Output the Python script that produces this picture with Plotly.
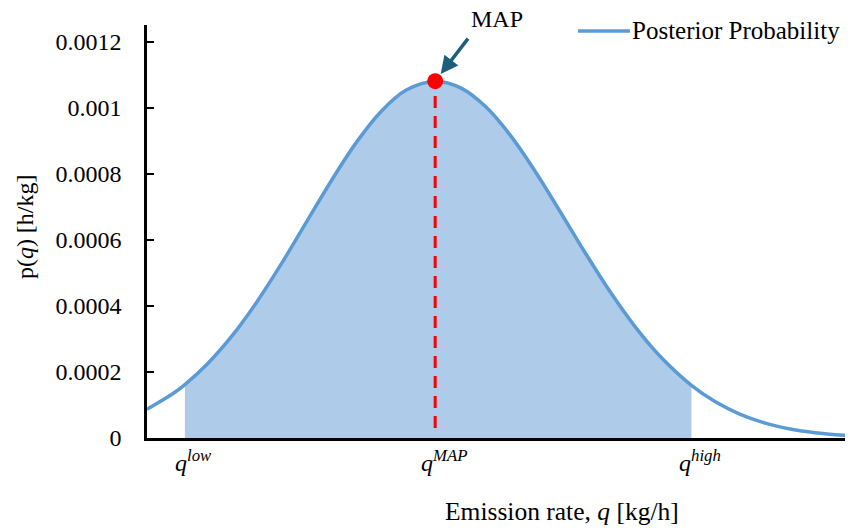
import plotly.graph_objects as go

# ---- data ----
q_vals = [0, 2.5, 3.8, 6, 8.5, 11, 13.5, 16, 18.5, 21, 23.5, 26, 28.9,
          31.5, 34, 36.5, 39, 41.5, 44, 46.5, 49, 51.5, 54.6, 57, 59.5,
          62, 64.5, 67, 70]
p_vals = [0.0000872, 0.0001322, 0.0001618, 0.0002224, 0.0003081, 0.0004112,
          0.0005284, 0.000654, 0.0007795, 0.0008948, 0.0009891, 0.001053, 0.00108,
          0.001059, 0.0010016, 0.0009136, 0.0008037, 0.0006818, 0.0005578,
          0.0004401, 0.0003349, 0.0002458, 0.0001593, 0.0001095, 0.0000716,
          0.0000451, 0.0000274, 0.0000161, 0.0000081]
q_low, q_map, q_high = 3.8, 28.9, 54.6
p_map = 0.00108
y_tickvals = [0, 0.0002, 0.0004, 0.0006, 0.0008, 0.001, 0.0012]
y_ticktext = ["0", "0.0002", "0.0004", "0.0006", "0.0008", "0.001", "0.0012"]
x_labels = ["<i>q</i><sup><i>low</i></sup>", "<i>q</i><sup><i>MAP</i></sup>",
            "<i>q</i><sup><i>high</i></sup>"]
x_label_pos = [q_low, q_map, q_high]

FONT = "Liberation Serif, Times New Roman, serif"
LINE_C = "#5b9bd5"
FILL_C = "#aecbe9"

fill_q = [q for q in q_vals if q_low <= q <= q_high]
fill_p = [p for q, p in zip(q_vals, p_vals) if q_low <= q <= q_high]

fig = go.Figure()
fig.add_trace(go.Scatter(x=fill_q, y=fill_p, mode="lines", fill="tozeroy",
                         fillcolor=FILL_C, line=dict(width=0, shape="spline", color=FILL_C),
                         showlegend=False, hoverinfo="skip"))
fig.add_trace(go.Scatter(x=q_vals, y=p_vals, mode="lines", name="Posterior Probability",
                         line=dict(color=LINE_C, width=3.5, shape="spline"),
                         showlegend=False))
fig.add_trace(go.Scatter(x=[q_map, q_map], y=[0.00003, p_map], mode="lines",
                         line=dict(color="#ff0000", width=3, dash="12px,8px"),
                         showlegend=False))
fig.add_trace(go.Scatter(x=[q_map], y=[p_map], mode="markers",
                         marker=dict(color="#ff0000", size=16), showlegend=False))

annotations = []
for txt, xp in zip(x_labels, x_label_pos):
    annotations.append(dict(x=xp, y=0, xref="x", yref="y", text=txt, showarrow=False,
                            xanchor="center", yanchor="top", xshift=9, yshift=-6,
                            font=dict(family=FONT, size=24, color="black")))
# arrow to MAP
annotations.append(dict(x=q_map, y=p_map, xref="x", yref="y", text="", showarrow=True,
                        ax=34, ay=-44, arrowhead=2, arrowsize=1, arrowwidth=3.5,
                        arrowcolor="#1b5f7c", standoff=9))
annotations.append(dict(x=35.1, y=1.0145, xref="x", yref="paper", text="MAP",
                        showarrow=False, xanchor="center", yanchor="middle",
                        font=dict(family=FONT, size=24, color="black")))
# axis titles
annotations.append(dict(x=-0.1748, y=0.513, xref="paper", yref="paper",
                        text="p(<i>q</i>) [h/kg]", textangle=-90, showarrow=False,
                        xanchor="center", yanchor="middle",
                        font=dict(family=FONT, size=24, color="black")))
annotations.append(dict(x=0.5946, y=-0.179, xref="paper", yref="paper",
                        text="Emission rate, <i>q</i> [kg/h]", showarrow=False,
                        xanchor="center", yanchor="middle",
                        font=dict(family=FONT, size=25.5, color="black")))
# legend text
annotations.append(dict(x=0.6963, y=0.9855, xref="paper", yref="paper",
                        text="Posterior Probability", showarrow=False,
                        xanchor="left", yanchor="middle", xshift=-3,
                        font=dict(family=FONT, size=25, color="black")))

fig.update_layout(
    width=849, height=529,
    margin=dict(l=147, r=4, t=25, b=91),
    paper_bgcolor="white", plot_bgcolor="white",
    font=dict(family=FONT, size=24, color="black"),
    showlegend=False,
    annotations=annotations,
    shapes=[dict(type="line", xref="paper", yref="paper", x0=0.6175, x1=0.692,
                 y0=0.9855, y1=0.9855, line=dict(color=LINE_C, width=3.5))],
    xaxis=dict(range=[0, 70], showgrid=False, zeroline=False, showticklabels=False,
               ticks="", showline=True, linecolor="black", linewidth=2.5),
    yaxis=dict(range=[0, 0.00125], showgrid=False, zeroline=False,
               tickvals=y_tickvals, ticktext=y_ticktext, ticks="inside", ticklen=7,
               tickwidth=2, tickcolor="black", ticklabelstandoff=18,
               showline=True, linecolor="black", linewidth=2.5,
               tickfont=dict(family=FONT, size=24, color="black")),
)

fig.write_html("out.html")
